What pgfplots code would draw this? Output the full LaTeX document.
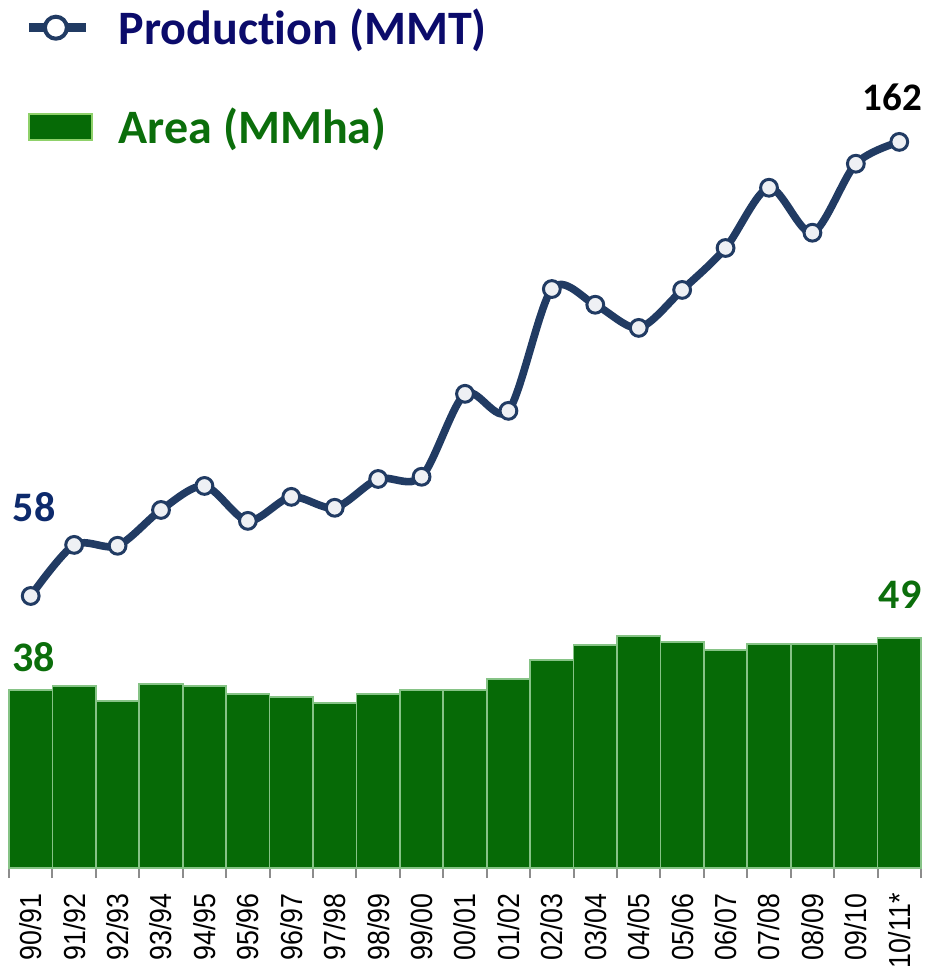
\documentclass[border=0pt]{standalone}
\usepackage{fontspec}
\setmainfont{Carlito}[Ligatures=NoCommon]
\newfontfamily\arial{Liberation Sans}
\usepackage{pgfplots}
\usepackage{pgfplotstable}
\pgfplotsset{compat=1.18}
\definecolor{barfill}{HTML}{066A06}
\definecolor{baredge}{HTML}{86C386}
\definecolor{legedge}{HTML}{8FD16A}
\definecolor{linenavy}{HTML}{213B63}
\definecolor{markfill}{HTML}{EEF0F4}
\definecolor{legnavy}{HTML}{0B0B6B}
\definecolor{numnavy}{HTML}{0D2A6C}
\definecolor{numgreen}{HTML}{0B6E0B}
\definecolor{tickgray}{HTML}{8C8C8C}

% narrow the season labels a little along their length
\newcommand\tl[1]{\scalebox{0.88}[1]{#1}}

% x = season index, area in MMha, production in MMT
\pgfplotstableread{
x  area  prod
0  38.0  58.0
1  38.8  69.7
2  35.6  69.5
3  39.2  77.7
4  38.8  83.2
5  37.1  75.2
6  36.5  80.7
7  35.2  78.2
8  37.1  84.8
9  38.0  85.3
10 38.0  104.3
11 40.3  100.4
12 44.3  128.3
13 47.5  124.7
14 49.5  119.4
15 48.2  128.1
16 46.5  137.7
17 47.8  151.5
18 47.8  141.2
19 47.8  157.0
20 49.0  162.0
}\datatable

\begin{document}
\begin{tikzpicture}
\path[use as bounding box] (-4.5pt,-51pt) rectangle (458pt,434pt);
% bars: area
\begin{axis}[
    at={(0,0)}, anchor=south west,
    scale only axis, width=456pt, height=434pt,
    xmin=-0.5, xmax=20.5, ymin=0, ymax=185.1,
    axis y line=none, axis x line*=bottom,
    x axis line style={draw=tickgray, line width=1pt, -},
    xtick={0,...,20},
    xticklabels={\tl{90/91},\tl{91/92},\tl{92/93},\tl{93/94},\tl{94/95},\tl{95/96},\tl{96/97},\tl{97/98},\tl{98/99},\tl{99/00},\tl{00/01},\tl{01/02},\tl{02/03},\tl{03/04},\tl{04/05},\tl{05/06},\tl{06/07},\tl{07/08},\tl{08/09},\tl{09/10},\tl{10/11*}},
    major tick length=0pt,
    extra x ticks={-0.5,0.5,...,20.5},
    extra x tick labels={},
    extra x tick style={major tick length=5pt, tick align=outside,
        tick style={draw=tickgray, line width=1pt}},
    xticklabel style={font=\arial\fontsize{15.2}{15.2}\selectfont, rotate=90,
        anchor=east, inner sep=0pt, text=black},
    xticklabel shift=12.5pt,
    ytick=\empty,
    clip=false,
]
\addplot[ybar, bar width=1, fill=barfill, draw=baredge, line width=0.8pt]
    table[x=x, y=area] {\datatable};
\node[font=\bfseries\fontsize{21}{21}\selectfont, text=numgreen] at (axis cs:0.07,45.0) {38};
\node[font=\bfseries\fontsize{21}{21}\selectfont, text=numgreen] at (axis cs:20.02,58.2) {49};
\end{axis}
% line: production
\begin{axis}[
    at={(0,0)}, anchor=south west,
    scale only axis, width=456pt, height=434pt,
    xmin=-0.5, xmax=20.5, ymin=-4.3, ymax=194.5,
    hide axis, clip=false,
    legend cell align=left,
    legend style={at={(rel axis cs:0,1)}, anchor=north west, xshift=7.5pt, yshift=-4pt,
        draw=none, fill=none, inner sep=0pt, row sep=30.5pt, column sep=13pt,
        font=\bfseries\fontsize{24}{24}\selectfont,
        nodes={inner sep=0pt}},
]
\addplot[linenavy, line width=3.8pt, smooth, mark=*, mark size=4.2pt,
    mark options={fill=markfill, draw=linenavy, line width=1.5pt},
    legend image code/.code={
        \draw[linenavy, line width=4.5pt] (0pt,0pt) -- (28.5pt,0pt);
        \draw[linenavy, fill=white, line width=2pt] (13.5pt,0pt) circle (5.5pt);}]
    table[x=x, y=prod] {\datatable};
\addlegendentry[text=legnavy]{Production (MMT)}
\addlegendimage{legend image code/.code={
    \draw[fill=barfill, draw=legedge, line width=1pt] (0pt,-6.5pt) rectangle (31.5pt,6.5pt);}}
\addlegendentry[text=numgreen]{Area (MMha)}
\node[font=\bfseries\fontsize{21}{21}\selectfont, text=numnavy] at (axis cs:0.08,78.4) {58};
\node[font=\bfseries\fontsize{19.5}{19.5}\selectfont, text=black] at (axis cs:19.84,172.1) {162};
\end{axis}
\end{tikzpicture}
\end{document}
